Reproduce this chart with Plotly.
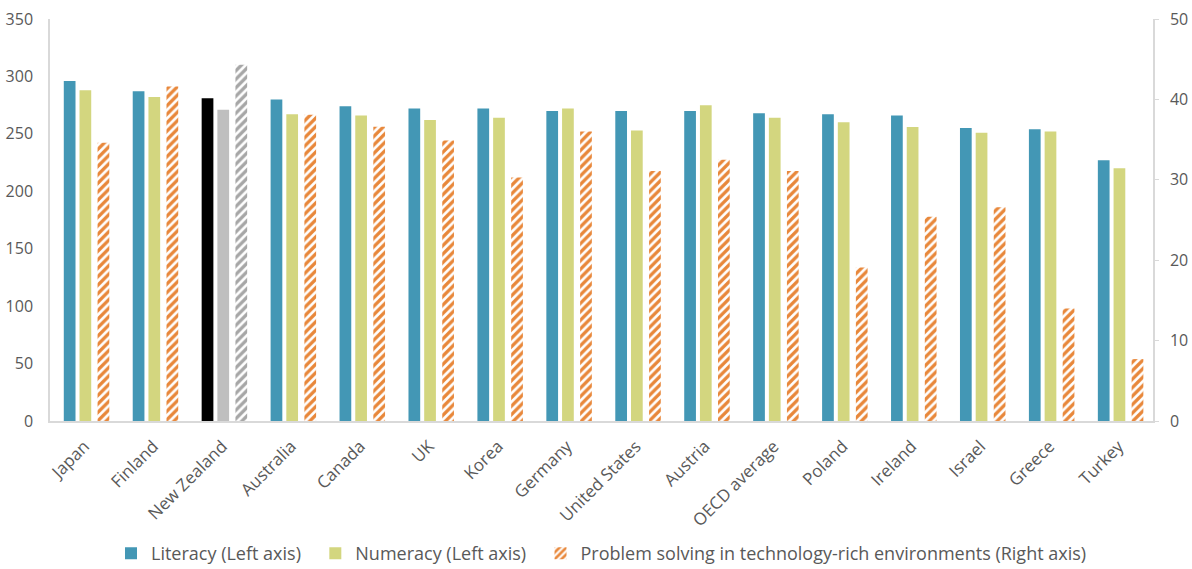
import plotly.graph_objects as go

countries = ["Japan", "Finland", "New Zealand", "Australia", "Canada", "UK", "Korea",
             "Germany", "United States", "Austria", "OECD average", "Poland", "Ireland",
             "Israel", "Greece", "Turkey"]
literacy = [296, 287, 281, 280, 274, 272, 272, 270, 270, 270, 268, 267, 266, 255, 254, 227]
numeracy = [288, 282, 271, 267, 266, 262, 264, 272, 253, 275, 264, 260, 256, 251, 252, 220]
problem_solving = [34.6, 41.6, 44.3, 38.1, 36.6, 34.9, 30.3, 36.0, 31.1, 32.5, 31.1,
                   19.1, 25.4, 26.6, 14.0, 7.7]

highlight = "New Zealand"

BLUE = "#4397b5"
GREEN = "#d3d67f"
ORANGE = "#e8873a"

lit_colors = ["#000000" if c == highlight else BLUE for c in countries]
num_colors = ["#bfbfbf" if c == highlight else GREEN for c in countries]
ps_colors = ["#a6a6a6" if c == highlight else ORANGE for c in countries]

BAR_W = 0.17
FONT = "'Open Sans', Lato, sans-serif"
GREY_TXT = "#595959"
PAD = "\u00a0" * 2

fig = go.Figure()
fig.add_trace(go.Bar(
    x=countries, y=literacy, name="Literacy (Left axis)" + PAD,
    width=BAR_W, offset=-0.30,
    marker=dict(color=lit_colors, line=dict(width=0)),
    yaxis="y",
))
fig.add_trace(go.Bar(
    x=countries, y=numeracy, name="Numeracy (Left axis)" + PAD,
    width=BAR_W, offset=-0.072,
    marker=dict(color=num_colors, line=dict(width=0)),
    yaxis="y",
))
fig.add_trace(go.Bar(
    x=countries, y=problem_solving,
    name="Problem solving in technology-rich environments (Right axis)",
    width=BAR_W, offset=0.19,
    marker=dict(
        color="white",
        line=dict(width=0),
        pattern=dict(shape="/", fgcolor=ps_colors, bgcolor="white",
                     size=6, solidity=0.55, fillmode="replace"),
    ),
    yaxis="y2",
))

fig.update_layout(
    width=1192, height=569,
    margin=dict(l=50, r=39, t=19, b=148, autoexpand=False),
    paper_bgcolor="white", plot_bgcolor="white",
    barmode="overlay",
    font=dict(family=FONT, size=16, color=GREY_TXT),
    showlegend=True,
    legend=dict(orientation="h", x=0.5, xanchor="center", y=-0.33, yanchor="middle",
                font=dict(size=18, color=GREY_TXT), traceorder="normal",
                itemwidth=30),
    xaxis=dict(
        type="category", range=[-0.5, 15.5], automargin=False,
        showline=True, linecolor="#d9d9d9", linewidth=1.5,
        showgrid=False, ticks="", tickangle=-45,
        ticklabelstandoff=7,
        tickfont=dict(size=17, color=GREY_TXT),
    ),
    yaxis=dict(
        range=[0, 350], dtick=50, automargin=False,
        showline=True, linecolor="#d9d9d9", linewidth=1.5,
        showgrid=False, zeroline=False, ticks="",
        ticklabelstandoff=12,
        tickfont=dict(size=16, color=GREY_TXT),
    ),
    yaxis2=dict(
        range=[0, 50], dtick=10, overlaying="y", side="right", automargin=False,
        showline=True, linecolor="#d9d9d9", linewidth=1.5,
        showgrid=False, zeroline=False,
        ticks="outside", ticklen=4, tickcolor="#d9d9d9",
        ticklabelstandoff=8,
        tickfont=dict(size=16, color=GREY_TXT),
    ),
)

fig.write_html("out.html")
